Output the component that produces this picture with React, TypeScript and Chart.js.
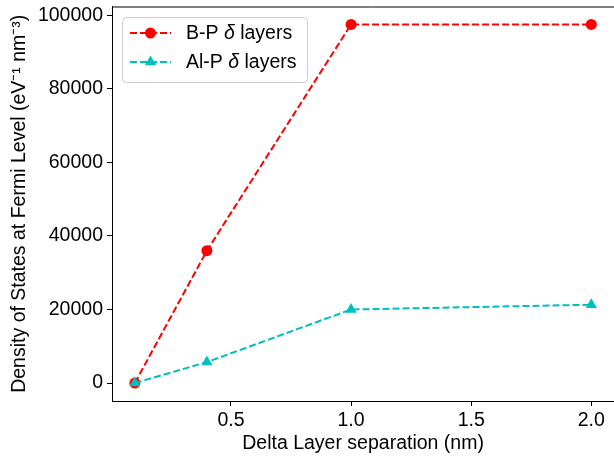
import React, { useEffect, useRef } from "react";
import { Chart, registerables } from "chart.js";

Chart.register(...registerables);

const separations = [0.1, 0.4, 1.0, 2.0];
const bpValues = [0, 36000, 97500, 97500];
const alpValues = [0, 5700, 20000, 21300];
const xTicks = [0.5, 1.0, 1.5, 2.0];
const yTicks = [0, 20000, 40000, 60000, 80000, 100000];
const seriesNames = ["B-P", "Al-P"];
const xTitle = "Delta Layer separation (nm)";
const yTitle = "Density of States at Fermi Level (eV\u207B\u00B9 nm\u207B\u00B3)";

const FONT = "'Liberation Sans', Arial, sans-serif";
const FS = 19.5;
const X_MIN = 0.005;
const X_AXES_END = 2.095;

const legendPlugin = {
  id: "customLegend",
  afterDraw(chart: any) {
    const ctx = chart.ctx;
    const area = chart.chartArea;
    ctx.save();
    // top spine
    ctx.strokeStyle = "#000";
    ctx.lineWidth = 1;
    ctx.beginPath();
    ctx.moveTo(area.left, area.top + 0.5);
    ctx.lineTo(area.right, area.top + 0.5);
    ctx.stroke();

    // x axis title, centred on the full axes width
    const xs = chart.scales.x;
    const cx = (xs.getPixelForValue(X_MIN) + xs.getPixelForValue(X_AXES_END)) / 2;
    ctx.fillStyle = "#000";
    ctx.font = `${FS}px ${FONT}`;
    ctx.textAlign = "center";
    ctx.textBaseline = "middle";
    ctx.fillText(xTitle, cx, chart.height - 2 - (FS * 1.2) / 2);

    // legend box
    const bx = 122.5, by = 17.5, bw = 185, bh = 65, r = 4;
    ctx.beginPath();
    ctx.moveTo(bx + r, by);
    ctx.lineTo(bx + bw - r, by);
    ctx.quadraticCurveTo(bx + bw, by, bx + bw, by + r);
    ctx.lineTo(bx + bw, by + bh - r);
    ctx.quadraticCurveTo(bx + bw, by + bh, bx + bw - r, by + bh);
    ctx.lineTo(bx + r, by + bh);
    ctx.quadraticCurveTo(bx, by + bh, bx, by + bh - r);
    ctx.lineTo(bx, by + r);
    ctx.quadraticCurveTo(bx, by, bx + r, by);
    ctx.closePath();
    ctx.fillStyle = "rgba(255,255,255,0.8)";
    ctx.fill();
    ctx.strokeStyle = "#cccccc";
    ctx.stroke();

    const rows = [33, 62];
    chart.data.datasets.forEach((ds: any, i: number) => {
      const y = rows[i];
      ctx.strokeStyle = ds.borderColor;
      ctx.lineWidth = 2;
      ctx.setLineDash([7, 3]);
      ctx.beginPath();
      ctx.moveTo(130, y);
      ctx.lineTo(171, y);
      ctx.stroke();
      ctx.setLineDash([]);
      ctx.fillStyle = ds.backgroundColor;
      ctx.beginPath();
      if (ds.pointStyle === "circle") {
        ctx.arc(150.5, y, ds.pointRadius, 0, Math.PI * 2);
      } else {
        const rr = ds.pointRadius;
        for (let k = 0; k < 3; k++) {
          const a = (k * 2 * Math.PI) / 3;
          const px = 150.5 + Math.sin(a) * rr;
          const py = y - Math.cos(a) * rr;
          if (k === 0) ctx.moveTo(px, py); else ctx.lineTo(px, py);
        }
        ctx.closePath();
      }
      ctx.fill();
      // text
      ctx.fillStyle = "#000";
      ctx.textBaseline = "middle";
      ctx.textAlign = "left";
      let x = 186;
      const parts = [
        { t: seriesNames[i] + " ", it: false },
        { t: "\u03B4", it: true },
        { t: " layers", it: false },
      ];
      parts.forEach((p) => {
        ctx.font = `${p.it ? "italic " : ""}${FS}px ${FONT}`;
        ctx.fillText(p.t, x, y + 1);
        x += ctx.measureText(p.t).width;
      });
    });
    ctx.restore();
  },
};

export default function App() {
  const ref = useRef<HTMLCanvasElement>(null);
  useEffect(() => {
    if (!ref.current) return;
    const chart = new Chart(ref.current, {
      type: "line",
      data: {
        datasets: [
          {
            label: seriesNames[0] + " \u03B4 layers",
            data: separations.map((x, i) => ({ x, y: bpValues[i] })),
            borderColor: "#ff0000",
            backgroundColor: "#ff0000",
            borderWidth: 2,
            borderDash: [7, 3],
            pointStyle: "circle",
            pointRadius: 5.5,
            pointBorderWidth: 0,
            order: 1,
          },
          {
            label: seriesNames[1] + " \u03B4 layers",
            data: separations.map((x, i) => ({ x, y: alpValues[i] })),
            borderColor: "#00bfbf",
            backgroundColor: "#00bfbf",
            borderWidth: 2,
            borderDash: [7, 3],
            pointStyle: "triangle",
            pointRadius: 6.5,
            pointBorderWidth: 0,
            order: 0,
          },
        ] as any,
      },
      options: {
        responsive: false,
        animation: false,
        devicePixelRatio: 1,
        layout: { padding: { left: 0, right: 0, top: 6, bottom: 0 } },
        plugins: { legend: { display: false }, tooltip: { enabled: false } },
        scales: {
          x: {
            type: "linear",
            min: X_MIN,
            max: 2.1755,
            afterBuildTicks: (s: any) => {
              s.ticks = xTicks.map((v) => ({ value: v }));
            },
            afterFit: (s: any) => {
              s.height = 56;
              s.paddingLeft = 0;
              s.paddingRight = 0;
              s.paddingTop = 0;
              s.paddingBottom = 0;
            },
            ticks: {
              color: "#000",
              font: { family: FONT, size: FS },
              padding: 3,
              maxRotation: 0,
              callback: (v: any) => Number(v).toFixed(1),
            },
            grid: { drawOnChartArea: false, drawTicks: true, tickLength: 5, color: "#000" },
            border: { display: true, color: "#000", width: 1 },
            title: { display: false, text: xTitle },
          },
          y: {
            type: "linear",
            min: -4875,
            max: 102375,
            afterBuildTicks: (s: any) => {
              s.ticks = yTicks.map((v) => ({ value: v }));
            },
            afterFit: (s: any) => {
              s.width = 112;
              s.paddingLeft = 0;
              s.paddingRight = 0;
              s.paddingTop = 0;
              s.paddingBottom = 0;
            },
            ticks: {
              color: "#000",
              font: { family: FONT, size: FS },
              padding: 4,
              callback: (v: any) => String(v),
            },
            grid: { drawOnChartArea: false, drawTicks: true, tickLength: 5, color: "#000" },
            border: { display: true, color: "#000", width: 1 },
            title: {
              display: true,
              text: yTitle,
              color: "#000",
              font: { family: FONT, size: FS },
              padding: { top: 8, bottom: 0 },
            },
          },
        },
      },
      plugins: [legendPlugin],
    });
    return () => chart.destroy();
  }, []);
  return (
    <div style={{ position: "fixed", left: 0, top: 0, width: 614, height: 457, overflow: "hidden", background: "#fff" }}>
      <canvas ref={ref} width={640} height={457} style={{ display: "block" }} />
    </div>
  );
}
